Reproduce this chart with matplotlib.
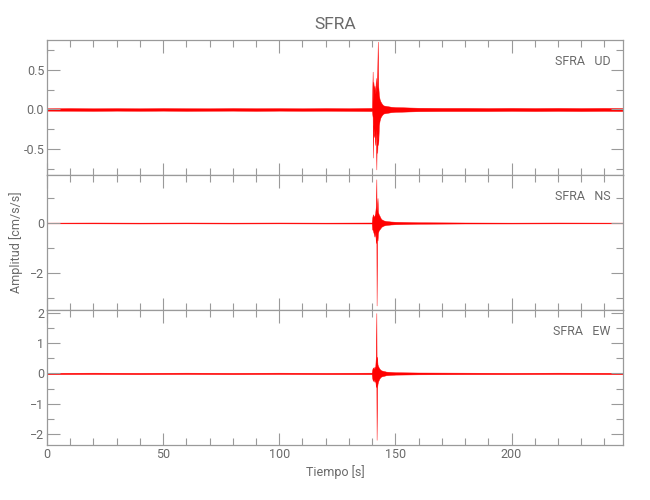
import numpy as np
import matplotlib
matplotlib.use('Agg')
import matplotlib.pyplot as plt
from matplotlib import font_manager
from matplotlib.ticker import MultipleLocator

# font close to the thin condensed look of the original
names = set(f.name for f in font_manager.fontManager.ttflist)
for fam in ['Liberation Sans Narrow', 'Roboto', 'DejaVu Sans']:
    if fam in names:
        FONT = fam
        break
plt.rcParams['font.family'] = [FONT, 'DejaVu Sans']

TITLE = "SFRA"
COMPONENTS = ["SFRA   UD", "SFRA   NS", "SFRA   EW"]
XLABEL = "Tiempo [s]"
YLABEL = "Amplitud [cm/s/s]"

# envelope of each trace (upper / lower values)
ud_t  = [0, 10, 20, 30, 40, 50, 60, 70, 80, 90, 100, 110, 120, 130, 139.9,
         140.2, 140.3, 140.5, 140.8, 141.0, 141.3, 141.6, 141.8, 142.0, 142.2, 142.4,
         142.6, 142.9, 143.2, 143.6, 144.0, 144.5, 145, 146, 147, 148, 150, 153, 156,
         160, 170, 180, 190, 200, 210, 220, 230, 240, 248]
ud_hi = [0.015, 0.018, 0.015, 0.017, 0.015, 0.018, 0.016, 0.015, 0.018, 0.016, 0.017, 0.015, 0.018, 0.016, 0.02,
         0.48, 0.10, 0.35, 0.25, 0.30, 0.20, 0.40, 0.22, 0.35, 0.50, 0.86,
         0.30, 0.18, 0.13, 0.10, 0.08, 0.06, 0.05, 0.045, 0.04, 0.035, 0.03, 0.028, 0.025,
         0.022, 0.02, 0.02, 0.018, 0.02, 0.018, 0.02, 0.018, 0.02, 0.018]
ud_lo = [-0.015, -0.016, -0.018, -0.015, -0.017, -0.015, -0.018, -0.016, -0.015, -0.018, -0.015, -0.017, -0.016, -0.018, -0.02,
         -0.10, -0.61, -0.20, -0.35, -0.30, -0.45, -0.25, -0.76, -0.30, -0.55, -0.30,
         -0.45, -0.20, -0.14, -0.10, -0.08, -0.06, -0.05, -0.045, -0.04, -0.035, -0.03, -0.028, -0.025,
         -0.022, -0.02, -0.02, -0.02, -0.018, -0.02, -0.018, -0.02, -0.018, -0.02]

ns_t  = [0, 20, 40, 60, 80, 100, 120, 139.8,
         140.0, 140.3, 140.6, 141.0, 141.3, 141.6, 141.8, 141.9, 142.1, 142.3, 142.5,
         142.8, 143.2, 143.6, 144.0, 145, 146, 148, 150, 155, 160, 180, 200, 220, 248]
ns_hi = [0.015, 0.02, 0.015, 0.02, 0.015, 0.02, 0.015, 0.02,
         0.20, 0.35, 0.25, 0.30, 0.40, 0.70, 1.75, 0.50, 0.60, 1.00, 0.45,
         0.35, 0.28, 0.20, 0.15, 0.10, 0.08, 0.06, 0.05, 0.04, 0.03, 0.02, 0.015, 0.02, 0.015]
ns_lo = [-0.015, -0.015, -0.02, -0.015, -0.02, -0.015, -0.02, -0.02,
         -0.25, -0.30, -0.40, -0.55, -0.35, -0.80, -0.40, -3.30, -0.60, -0.70, -0.40,
         -0.30, -0.25, -0.20, -0.15, -0.10, -0.08, -0.06, -0.05, -0.04, -0.03, -0.02, -0.02, -0.015, -0.015]

ew_t  = [0, 20, 40, 60, 80, 100, 120, 139.8,
         140.0, 140.3, 140.6, 141.0, 141.3, 141.6, 141.8, 141.9, 142.1, 142.3, 142.5,
         142.8, 143.2, 143.6, 144.0, 145, 146, 148, 150, 155, 160, 180, 200, 220, 248]
ew_hi = [0.02, 0.025, 0.02, 0.025, 0.02, 0.025, 0.02, 0.025,
         0.12, 0.20, 0.15, 0.22, 0.18, 0.60, 2.00, 0.40, 0.55, 0.30, 0.25,
         0.20, 0.15, 0.12, 0.10, 0.08, 0.06, 0.05, 0.04, 0.035, 0.03, 0.025, 0.02, 0.025, 0.02]
ew_lo = [-0.025, -0.02, -0.025, -0.02, -0.025, -0.02, -0.025, -0.025,
         -0.15, -0.25, -0.20, -0.28, -0.22, -0.45, -0.30, -2.20, -0.50, -0.35, -0.28,
         -0.22, -0.16, -0.12, -0.10, -0.08, -0.06, -0.05, -0.04, -0.035, -0.03, -0.025, -0.025, -0.02, -0.025]

traces = [(ud_t, ud_hi, ud_lo), (ns_t, ns_hi, ns_lo), (ew_t, ew_hi, ew_lo)]
ylims = [(-0.83, 0.88), (-3.48, 1.92), (-2.37, 2.1)]
ymajor = [0.5, 2, 1]
yminor = [0.25, 1, 0.5]

GRAY = '#9a9a9a'
TXT = '#6a6a6a'

fig = plt.figure(figsize=(6.5, 5), dpi=100)
left, width = 0.0723, 0.8862
bottoms = [0.65, 0.38, 0.11]
height = 0.27

for i in range(3):
    ax = fig.add_axes([left, bottoms[i], width, height])
    t, hi, lo = traces[i]
    ax.fill_between(t, lo, hi, facecolor='red', lw=0.3, edgecolor='red')
    ax.set_xlim(0, 248)
    ax.set_ylim(*ylims[i])
    ax.xaxis.set_major_locator(MultipleLocator(50))
    ax.xaxis.set_minor_locator(MultipleLocator(10))
    ax.yaxis.set_major_locator(MultipleLocator(ymajor[i]))
    ax.yaxis.set_minor_locator(MultipleLocator(yminor[i]))
    ax.tick_params(which='both', direction='in', top=True, right=True,
                   color=GRAY, labelcolor=TXT, labelsize=9, width=0.8)
    ax.tick_params(which='major', length=9, pad=2)
    ax.tick_params(which='minor', length=5)
    for s in ax.spines.values():
        s.set_color(GRAY)
        s.set_linewidth(0.9)
    ax.text(0.978, 0.84, COMPONENTS[i], transform=ax.transAxes, ha='right',
            va='center', color=TXT, fontsize=9)
    if i < 2:
        ax.tick_params(labelbottom=False)
    if i == 0:
        ax.yaxis.set_major_formatter(plt.FormatStrFormatter('%.1f'))
        ax.set_title(TITLE, color=TXT, fontsize=12.5, pad=8)
    if i == 1:
        ax.set_ylabel(YLABEL, color=TXT, fontsize=9)
        ax.yaxis.set_label_coords(-0.042, 0.5)
    if i == 2:
        ax.set_xlabel(XLABEL, color=TXT, fontsize=9, labelpad=3)

fig.savefig('out.png', dpi=100)
